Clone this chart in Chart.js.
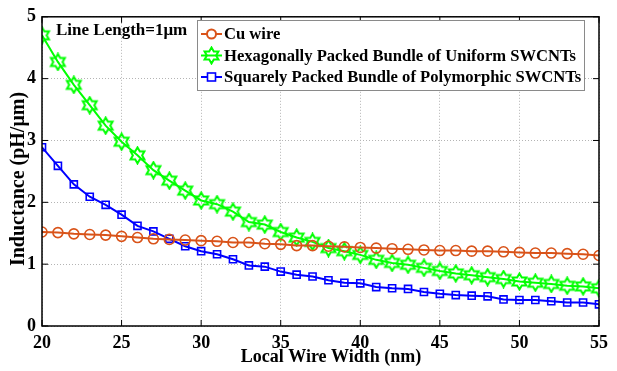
<!DOCTYPE html>
<html>
<head>
<meta charset="utf-8">
<script src="https://cdn.jsdelivr.net/npm/chart.js@4/dist/chart.umd.min.js"></script>
<style>
  body { margin: 0; background: #fff; }
  #chart { display: block; }
</style>
</head>
<body>
<canvas id="chart" width="617" height="371"></canvas>
<script>
// wire widths (nm)
const widths = [];
for (let w = 20; w <= 55; w++) widths.push(w);

const cuWire = [1.52, 1.51, 1.49, 1.48, 1.47, 1.45, 1.43, 1.41, 1.40, 1.39, 1.38, 1.37, 1.35, 1.35, 1.33, 1.32, 1.30, 1.30,
  1.29, 1.28, 1.27, 1.26, 1.25, 1.24, 1.23, 1.22, 1.22, 1.21, 1.21, 1.20, 1.19, 1.18, 1.18, 1.17, 1.16, 1.14];
const hexUniform = [4.70, 4.27, 3.90, 3.57, 3.24, 2.98, 2.76, 2.52, 2.35, 2.19, 2.03, 1.97, 1.85, 1.68, 1.64, 1.52, 1.43, 1.36,
  1.26, 1.21, 1.15, 1.07, 1.02, 0.99, 0.94, 0.89, 0.85, 0.82, 0.79, 0.76, 0.72, 0.70, 0.68, 0.65, 0.64, 0.61];
const sqPolymorphic = [2.89, 2.59, 2.29, 2.09, 1.96, 1.80, 1.62, 1.53, 1.41, 1.29, 1.21, 1.16, 1.08, 0.98, 0.96, 0.88, 0.83, 0.80,
  0.74, 0.70, 0.69, 0.63, 0.61, 0.60, 0.55, 0.52, 0.50, 0.49, 0.48, 0.43, 0.42, 0.42, 0.40, 0.38, 0.38, 0.35];

const seriesNames = ['Cu wire', 'Hexagonally Packed Bundle of Uniform SWCNTs', 'Squarely Packed Bundle of Polymorphic SWCNTs'];
const xTicks = [20, 25, 30, 35, 40, 45, 50, 55];
const yTicks = [0, 1, 2, 3, 4, 5];
const xTitle = 'Local Wire Width (nm)';
const yTitle = 'Inductance (pH/\u03bcm)';
const note = 'Line Length=1\u03bcm';

const FONT = '"Liberation Serif", "Times New Roman", serif';

// hexagram marker (two overlapping triangles)
function hexagram(size, color) {
  const c = document.createElement('canvas');
  c.width = size; c.height = size;
  const g = c.getContext('2d');
  const cx = size / 2, cy = size / 2, r = size / 2 - 1.5, ri = r / Math.sqrt(3);
  g.beginPath();
  for (let i = 0; i < 12; i++) {
    const a = -Math.PI / 2 + i * Math.PI / 6;
    const rr = i % 2 === 0 ? r : ri;
    const px = cx + rr * Math.cos(a), py = cy + rr * Math.sin(a);
    if (i === 0) g.moveTo(px, py); else g.lineTo(px, py);
  }
  g.closePath();
  g.strokeStyle = color;
  g.lineWidth = 2;
  g.stroke();
  return c;
}
const starImg = hexagram(19, '#00ff00');

const toXY = arr => arr.map((v, i) => ({ x: widths[i], y: v }));

const extras = {
  id: 'extras',
  afterDraw(chart) {
    const { ctx, chartArea: a, scales } = chart;
    ctx.save();
    // frame
    ctx.strokeStyle = '#000';
    ctx.lineWidth = 1.5;
    ctx.strokeRect(a.left, a.top, a.right - a.left, a.bottom - a.top);
    // inward ticks
    ctx.lineWidth = 1;
    xTicks.forEach(t => {
      const px = scales.x.getPixelForValue(t);
      ctx.beginPath();
      ctx.moveTo(px, a.bottom); ctx.lineTo(px, a.bottom - 6);
      ctx.moveTo(px, a.top); ctx.lineTo(px, a.top + 6);
      ctx.stroke();
    });
    yTicks.forEach(t => {
      const py = scales.y.getPixelForValue(t);
      ctx.beginPath();
      ctx.moveTo(a.left, py); ctx.lineTo(a.left + 6, py);
      ctx.moveTo(a.right, py); ctx.lineTo(a.right - 6, py);
      ctx.stroke();
    });

    // axis titles
    ctx.fillStyle = '#000';
    ctx.textBaseline = 'middle';
    ctx.textAlign = 'center';
    ctx.font = 'bold 18px ' + FONT;
    ctx.fillText(xTitle, 331, 357);
    ctx.save();
    ctx.translate(19, 179);
    ctx.rotate(-Math.PI / 2);
    ctx.font = 'bold 20px ' + FONT;
    ctx.fillText(yTitle, 0, 0);
    ctx.restore();

    // annotation
    ctx.font = 'bold 17px ' + FONT;
    ctx.textAlign = 'left';
    ctx.fillText(note, 56, 31);

    // legend box
    const bx = 197, by = 20, bw = 387, bh = 70;
    ctx.fillStyle = '#fff';
    ctx.fillRect(bx, by, bw, bh);
    ctx.strokeStyle = '#8a8a8a';
    ctx.lineWidth = 1;
    ctx.strokeRect(bx + 0.5, by + 0.5, bw, bh);
    chart.data.datasets.forEach((ds, i) => {
      const y = 34 + i * 21.5;
      ctx.strokeStyle = ds.borderColor;
      ctx.lineWidth = 2;
      ctx.beginPath();
      ctx.moveTo(201, y); ctx.lineTo(222, y);
      ctx.stroke();
      if (ds.pointStyle === 'circle') {
        ctx.beginPath();
        ctx.arc(211.5, y, 4.5, 0, Math.PI * 2);
        ctx.fillStyle = '#fff';
        ctx.fill();
        ctx.stroke();
      } else if (ds.pointStyle === 'rect') {
        ctx.fillStyle = '#fff';
        ctx.fillRect(207.5, y - 4, 8, 8);
        ctx.lineWidth = 1.6;
        ctx.strokeRect(207.5, y - 4, 8, 8);
      } else {
        ctx.drawImage(ds.pointStyle, 211.5 - 9.5, y - 9.5);
      }
      ctx.fillStyle = '#000';
      ctx.font = 'bold 16.6px ' + FONT;
      ctx.fillText(ds.label, 224, y + 1);
    });
    ctx.restore();
  }
};

new Chart(document.getElementById('chart'), {
  type: 'line',
  data: {
    datasets: [
      {
        label: seriesNames[0],
        data: toXY(cuWire),
        borderColor: '#d95319',
        backgroundColor: 'rgba(0,0,0,0)',
        borderWidth: 2,
        pointStyle: 'circle',
        pointRadius: 5,
        pointBorderWidth: 1.6,
        pointBackgroundColor: 'rgba(0,0,0,0)',
        tension: 0
      },
      {
        label: seriesNames[1],
        data: toXY(hexUniform),
        borderColor: '#00ff00',
        backgroundColor: 'rgba(0,0,0,0)',
        borderWidth: 2,
        pointStyle: starImg,
        pointRadius: 9,
        tension: 0
      },
      {
        label: seriesNames[2],
        data: toXY(sqPolymorphic),
        borderColor: '#0000ff',
        backgroundColor: 'rgba(0,0,0,0)',
        borderWidth: 2,
        pointStyle: 'rect',
        pointRadius: 5,
        pointBorderWidth: 1.6,
        pointBackgroundColor: 'rgba(0,0,0,0)',
        tension: 0
      }
    ]
  },
  options: {
    responsive: false,
    animation: false,
    layout: { padding: { left: 0, right: 18, top: 11, bottom: 0 } },
    plugins: {
      legend: { display: false },
      tooltip: { enabled: false }
    },
    scales: {
      x: {
        type: 'linear',
        min: 20,
        max: 55,
        afterBuildTicks: s => { s.ticks = xTicks.map(v => ({ value: v })); },
        afterFit: s => { s.height = 45; },
        ticks: { color: '#000', font: { family: FONT, size: 18, weight: 'bold' }, padding: 7, maxRotation: 0 },
        grid: { color: '#b4b4b4', lineWidth: 1, tickLength: 0, drawTicks: false },
        border: { display: false, dash: [1, 2] }
      },
      y: {
        min: 0,
        max: 5,
        afterBuildTicks: s => { s.ticks = yTicks.map(v => ({ value: v })); },
        afterFit: s => { s.width = 42; },
        ticks: { color: '#000', font: { family: FONT, size: 18, weight: 'bold' }, padding: 6 },
        grid: { color: '#b4b4b4', lineWidth: 1, tickLength: 0, drawTicks: false },
        border: { display: false, dash: [1, 2] }
      }
    }
  },
  plugins: [extras]
});
</script>
</body>
</html>
